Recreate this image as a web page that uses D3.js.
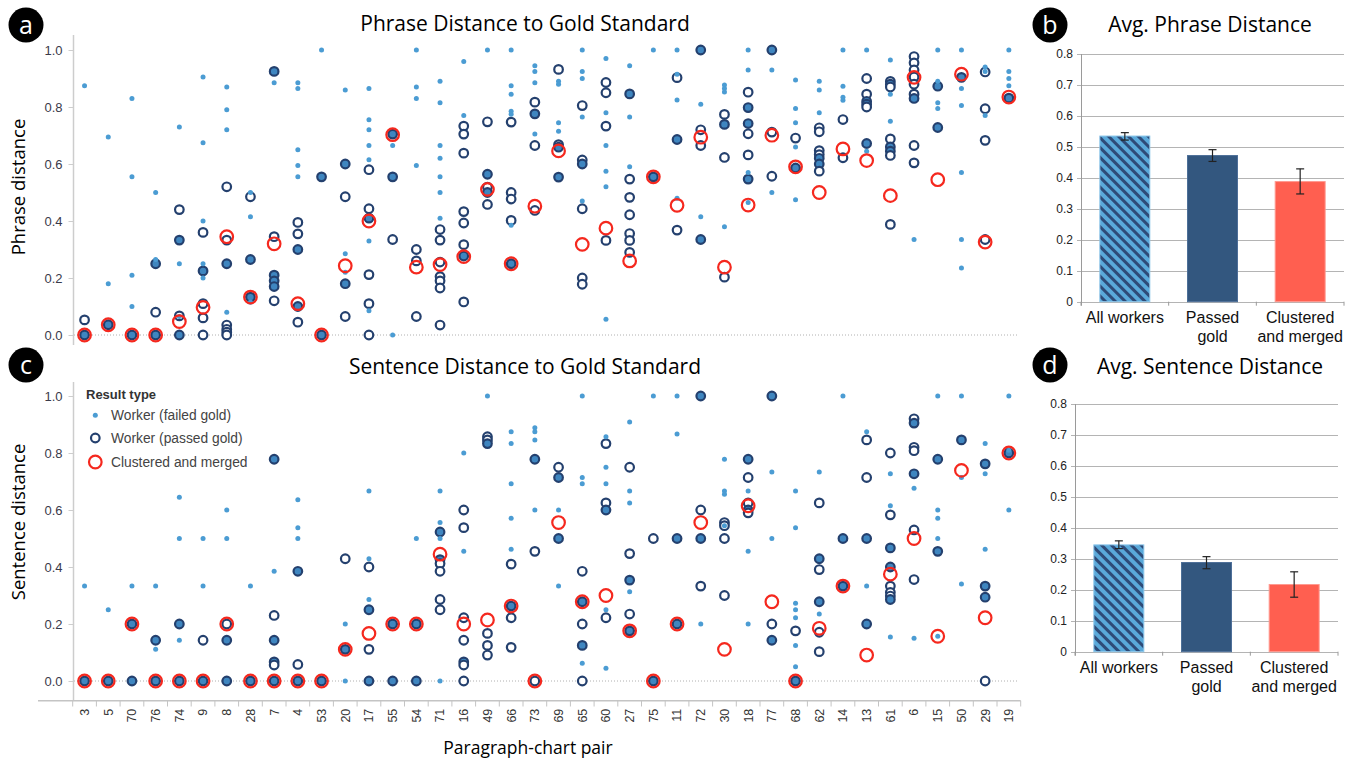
<!DOCTYPE html>
<html>
<head>
<meta charset="utf-8">
<script src="https://cdn.jsdelivr.net/npm/d3@7"></script>
<style>body{margin:0;background:#fff}</style>
</head>
<body>
<svg id="chart" width="1355" height="760"></svg>
<script>
// paragraph-chart pairs, in the order on the x axis
var pairs = ["3","5","70","76","74","9","8","28","7","4","53","20","17","55","54","71","16","49","66","73",
             "69","65","60","27","75","11","72","30","18","77","68","62","14","13","61","6","15","50","29","19"];
var distTicks = [0, 0.2, 0.4, 0.6, 0.8, 1.0];

// phrase distance, one list per pair (repeated value = several workers on the same spot)
var phraseFailed = [
  [0.875],[0.695,0.18],[0.83,0.555,0.21,0.1],[0.5,0.265],[0.73,0.25,0.065],
  [0.905,0.675,0.4,0.25,0.2],[0.87,0.79,0.72,0.08],[0.5,0.415,0.115],[0.885],[0.885,0.865,0.65,0.595,0.555],
  [1.0],[0.86,0.285,0.22],[0.865,0.755,0.72,0.665,0.615,0.33,0.085],[0.665,0],[1.0,0.87,0.83,0.595],
  [0.89,0.815,0.665,0.62,0.555,0.5,0.41],[0.96,0.77],[1.0],[1.0,0.875,0.845,0.785,0.775,0.385],[0.945,0.925,0.885,0.705],
  [0.89,0.88,0.745,0.715],[1.0,0.925,0.9,0.765,0.47],[0.97,0.78,0.665,0.575,0.52,0.055],[0.945,0.765,0.59],[1.0],
  [1.0,0.915,0.825,0.48],[0.81,0.415],[0.877,0.865,0.853,0.38],[1.0,0.93,0.57,0.465],[0.93,0.5],
  [0.895,0.795,0.745,0.66,0.475],[0.89,0.86,0.78],[1.0,0.873,0.834,0.824],[1.0,0.645],[0.965,0.845,0.75],
  [0.335],[1.0,0.89,0.815,0.795],[1.0,0.865,0.805,0.57,0.335,0.235],[0.94,0.925,0.77],[1.0,0.925,0.9,0.875]
];
var phrasePassed = [
  [0.053,0,0],[0.036,0.036],[0,0],[0.25,0.25,0.08,0,0],[0.44,0.333,0.333,0.067,0,0],
  [0.36,0.225,0.225,0.11,0.06,0],[0.52,0.333,0.25,0.25,0.035,0.02,0.01,0],[0.485,0.265,0.265,0.133,0.133],
  [0.925,0.925,0.345,0.21,0.21,0.19,0.19,0.17,0.17,0.12],[0.395,0.355,0.3,0.3,0.1,0.1,0.045],
  [0.555,0.555,0,0],[0.6,0.6,0.485,0.18,0.18,0.065],[0.58,0.443,0.41,0.41,0.212,0.11,0],[0.705,0.705,0.555,0.555,0.335],[0.3,0.26,0.065],
  [0.37,0.333,0.256,0.205,0.19,0.165,0.035],[0.733,0.705,0.638,0.433,0.393,0.317,0.277,0.277,0.116],
  [0.748,0.564,0.564,0.519,0.5,0.5,0.458],[0.747,0.5,0.477,0.402,0.25,0.25],[0.817,0.776,0.776,0.665,0.437],
  [0.932,0.668,0.659,0.659,0.554,0.554],[0.805,0.614,0.6,0.6,0.443,0.2,0.178],[0.886,0.85,0.733,0.332],
  [0.846,0.846,0.547,0.483,0.422,0.356,0.332,0.29],[0.555,0.555],
  [0.903,0.686,0.686,0.368],[1.0,1.0,0.72,0.665,0.335,0.335],[0.774,0.739,0.739,0.623,0.203],
  [0.852,0.798,0.798,0.742,0.742,0.706,0.632,0.547,0.547],[1.0,1.0,0.712,0.557],
  [0.691,0.586,0.586],[0.727,0.713,0.647,0.633,0.62,0.62,0.6,0.6,0.575],[0.756,0.622],
  [0.9,0.845,0.82,0.82,0.81,0.81,0.8,0.672,0.672],[0.89,0.88,0.88,0.87,0.688,0.66,0.66,0.645,0.645,0.63,0.388],
  [0.977,0.955,0.93,0.905,0.88,0.845,0.83,0.83,0.665,0.604],[0.873,0.873,0.728,0.728],[0.904,0.904],
  [0.923,0.794,0.683,0.335],[0.831,0.831]
];
var phraseMerged = [0,0.036,0,0,0.047,0.097,0.345,0.133,0.32,0.11,0,0.243,0.4,0.703,0.238,0.247,0.275,0.511,0.25,0.452,
                    0.646,0.318,0.375,0.26,0.555,0.455,0.694,0.238,0.456,0.701,0.59,0.5,0.653,0.612,0.489,0.904,0.545,0.915,0.326,0.835];

// sentence distance
var sentenceFailed = [
  [0.333],[0.25],[0.333],[0.333,0.111],[0.645,0.5,0.143],
  [0.5,0.333],[0.6,0.5],[0.333],[0.385],[0.636,0.538,0.5],
  [],[0.2,0],[0.667,0.429,0.286],[],[0.5],
  [0.667,0.556,0.5,0],[0.8,0.455],[1.0],[0.875,0.833,0.692,0.571,0.462],[0.889,0.875,0.846,0.6],
  [0.6,0.333],[1.0,0.714,0.692,0.0625],[0.857,0.75,0.692,0.25,0.045],[0.909,0.667,0.625,0.313],[1.0],
  [1.0,0.867],[0.2],[0.778,0.667,0.655,0.545],[0.667,0.455,0.2],[0.733,0.5],
  [0.667,0.538,0.273,0.25,0.222,0.125,0.05],[0.733,0.235],[1.0],[0.875,0.333],[0.727,0.615,0.154],
  [0.676,0.15],[1.0,0.6,0.571,0.5,0.157],[1.0,0.714,0.34],[0.833,0.727,0.462],[1.0,0.81,0.6]
];
var sentencePassed = [
  [0,0],[0,0],[0.2,0.2,0,0],[0.143,0.143,0,0],[0.2,0.2,0,0],
  [0.143,0,0],[0.2,0.143,0.143,0,0],[0,0],[0.778,0.778,0.23,0.143,0.143,0.067,0.067,0.056,0,0],[0.385,0.385,0.058,0,0],
  [0,0],[0.429,0.111,0.111],[0.4,0.25,0.25,0.111,0,0],[0.2,0.2,0,0],[0.2,0.2,0,0],
  [0.523,0.523,0.426,0.426,0.412,0.385,0.286,0.25],[0.6,0.538,0.222,0.143,0.067,0.067,0.056,0],
  [0.857,0.846,0.833,0.833,0.167,0.125,0.091],[0.41,0.263,0.263,0.222,0.118],[0.778,0.778,0.455,0],
  [0.75,0.714,0.714,0.5,0.5],[0.385,0.278,0.278,0.2,0.125,0.125,0],[0.833,0.625,0.6,0.6,0.222],
  [0.75,0.447,0.354,0.354,0.235,0.176,0.176],[0.5,0,0],
  [0.5,0.5,0.2,0.2],[1.0,1.0,0.6,0.5,0.5,0.333],[0.556,0.545,0.5,0.3],[0.778,0.778,0.714,0.625,0.6,0.6,0.59],[1.0,1.0,0.2,0.143,0.143],
  [0.176,0,0],[0.625,0.429,0.429,0.391,0.278,0.278,0.171,0.103],[0.5,0.5,0.333,0.333],[0.846,0.714,0.5,0.5,0.2,0.2],
  [0.8,0.583,0.467,0.467,0.4,0.4,0.333,0.311,0.298,0.286,0.286],
  [0.92,0.905,0.905,0.82,0.808,0.727,0.727,0.53,0.356],[0.778,0.778,0.455,0.455],[0.846,0.846],
  [0.762,0.762,0.333,0.333,0.294,0.294,0],[0.8,0.8]
];
var sentenceMerged = [0,0,0.2,0,0,0,0.2,0,0,0,0,0.111,0.167,0.2,0.2,0.445,0.2,0.214,0.263,0,
                      0.556,0.278,0.3,0.176,0,0.2,0.556,0.111,0.615,0.278,0,0.185,0.333,0.091,0.375,0.5,0.157,0.739,0.222,0.8];

// averages (right panels)
var groups = ["All workers", "Passed gold", "Clustered and merged"];
var groupLines = [["All workers"], ["Passed", "gold"], ["Clustered", "and merged"]];
var barTicks = [0, 0.1, 0.2, 0.3, 0.4, 0.5, 0.6, 0.7, 0.8];
var phraseAvg = [0.535, 0.472, 0.388];
var phraseLo  = [0.522, 0.453, 0.348];
var phraseHi  = [0.546, 0.491, 0.429];
var sentenceAvg = [0.345, 0.288, 0.217];
var sentenceLo  = [0.333, 0.268, 0.176];
var sentenceHi  = [0.358, 0.307, 0.258];


var svg = d3.select("#chart");
var titleFont = "'Open Sans', sans-serif";
var tabFont = "'Liberation Sans', Arial, sans-serif";

var cFailed = "#4b9cd3", cNavy = "#24406e", cFill = "#3f86c0", cRed = "#f5281e";

// hatch for "All workers"
var defs = svg.append("defs");
var pat = defs.append("pattern")
  .attr("id", "hatch")
  .attr("patternUnits", "userSpaceOnUse")
  .attr("width", 7).attr("height", 7)
  .attr("patternTransform", "rotate(-45)");
pat.append("rect").attr("width", 7).attr("height", 7).attr("fill", "#5aa9da");
pat.append("rect").attr("width", 3).attr("height", 7).attr("fill", "#2e4b78");

var x = d3.scaleBand().domain(pairs).range([72.7, 1020.7]);
function cx(p){ return x(p) + x.bandwidth() / 2; }

function scatter(y, yTop, yBottom, failed, passed, merged) {
  var g = svg.append("g");

  g.append("line")
    .attr("x1", 74).attr("x2", 1018)
    .attr("y1", y(0)).attr("y2", y(0))
    .attr("stroke", "#b0b0b0").attr("stroke-dasharray", "1,2");

  g.append("line")
    .attr("x1", 73.5).attr("x2", 73.5)
    .attr("y1", yTop).attr("y2", yBottom)
    .attr("stroke", "#cdcdcd").attr("stroke-width", 1.5);

  g.append("g")
    .attr("transform", "translate(73.5,0)")
    .call(d3.axisLeft(y).tickValues(distTicks).tickFormat(d3.format(".1f")).tickSize(5).tickPadding(6))
    .call(function(a){
      a.select(".domain").remove();
      a.selectAll("line").attr("stroke", "#cdcdcd");
      a.selectAll("text").attr("font-family", tabFont).attr("font-size", 13).attr("fill", "#3a3a4a");
    });

  var pts = [];
  passed.forEach(function(vals, i){
    d3.rollup(vals, function(v){ return v.length; }, function(d){ return d; })
      .forEach(function(n, v){ pts.push({p: pairs[i], v: v, filled: n > 1}); });
  });
  g.append("g").selectAll("circle").data(pts).join("circle")
    .attr("cx", function(d){ return cx(d.p); })
    .attr("cy", function(d){ return y(d.v); })
    .attr("r", 4.3)
    .attr("fill", function(d){ return d.filled ? cFill : "#fff"; })
    .attr("stroke", cNavy).attr("stroke-width", 2.2);

  var fp = [];
  failed.forEach(function(vals, i){ vals.forEach(function(v){ fp.push({p: pairs[i], v: v}); }); });
  g.append("g").selectAll("circle").data(fp).join("circle")
    .attr("cx", function(d){ return cx(d.p); })
    .attr("cy", function(d){ return y(d.v); })
    .attr("r", 2.5)
    .attr("fill", cFailed);

  g.append("g").selectAll("circle").data(merged).join("circle")
    .attr("cx", function(d, i){ return cx(pairs[i]); })
    .attr("cy", function(d){ return y(d); })
    .attr("r", 6.3)
    .attr("fill", "none")
    .attr("stroke", cRed).attr("stroke-width", 2.2);
}

var yPhrase = d3.scaleLinear().domain([0, 1]).range([335, 50]);
var ySentence = d3.scaleLinear().domain([0, 1]).range([681, 396]);

scatter(yPhrase, 35, 345, phraseFailed, phrasePassed, phraseMerged);
scatter(ySentence, 382, 701, sentenceFailed, sentencePassed, sentenceMerged);

// x axis of the bottom panel
svg.append("line")
  .attr("x1", 38).attr("x2", 1020.7).attr("y1", 700.7).attr("y2", 700.7)
  .attr("stroke", "#c4c4c4").attr("stroke-width", 1.5);
svg.append("g").selectAll("line").data(pairs.concat(["end"])).join("line")
  .attr("x1", function(d){ return d === "end" ? 1020.7 : x(d); })
  .attr("x2", function(d){ return d === "end" ? 1020.7 : x(d); })
  .attr("y1", 700.7).attr("y2", 706.5)
  .attr("stroke", "#c4c4c4");
svg.append("g")
  .attr("transform", "translate(0,700.7)")
  .call(d3.axisBottom(x).tickSize(0).tickPadding(0))
  .call(function(a){
    a.select(".domain").remove();
    a.selectAll("text")
      .attr("font-family", tabFont).attr("font-size", 12.5).attr("fill", "#333")
      .attr("transform", "rotate(-90)")
      .attr("x", -8).attr("y", 0).attr("dy", "0.35em")
      .style("text-anchor", "end");
  });

// legend
var lg = svg.append("g").attr("font-family", tabFont).attr("font-size", 13.8).attr("fill", "#444");
lg.append("text").attr("x", 86).attr("y", 399).attr("font-weight", "bold").attr("font-size", 13).attr("fill", "#333").text("Result type");
lg.append("circle").attr("cx", 95.3).attr("cy", 415.3).attr("r", 2.5).attr("fill", cFailed);
lg.append("text").attr("x", 111).attr("y", 420).text("Worker (failed gold)");
lg.append("circle").attr("cx", 95.3).attr("cy", 438).attr("r", 4.3).attr("fill", "#fff").attr("stroke", cNavy).attr("stroke-width", 2.2);
lg.append("text").attr("x", 111).attr("y", 443).text("Worker (passed gold)");
lg.append("circle").attr("cx", 95.3).attr("cy", 462).attr("r", 6.3).attr("fill", "none").attr("stroke", cRed).attr("stroke-width", 2.2);
lg.append("text").attr("x", 111).attr("y", 467).text("Clustered and merged");

// titles
function text(xp, yp, s, size, rot) {
  var t = svg.append("text")
    .attr("x", xp).attr("y", yp)
    .attr("font-family", titleFont).attr("font-size", size)
    .attr("fill", "#000").attr("text-anchor", "middle")
    .text(s);
  if (rot) t.attr("transform", "rotate(-90," + xp + "," + yp + ")");
}
text(525, 31, "Phrase Distance to Gold Standard", 21);
text(525, 374, "Sentence Distance to Gold Standard", 21);
text(1210, 32, "Avg. Phrase Distance", 21);
text(1210, 374, "Avg. Sentence Distance", 21);
text(25, 187, "Phrase distance", 18.5, true);
text(25, 522, "Sentence distance", 18.5, true);
text(528, 754, "Paragraph-chart pair", 17.5);

// panel letters
[["a", 26, 25], ["b", 1050, 25], ["c", 26, 365], ["d", 1050, 365]].forEach(function(b){
  svg.append("circle").attr("cx", b[1]).attr("cy", b[2]).attr("r", 17.5).attr("fill", "#000");
  svg.append("text").attr("x", b[1]).attr("y", b[2]).attr("dy", "0.34em")
    .attr("text-anchor", "middle").attr("font-family", titleFont).attr("font-size", 25)
    .attr("fill", "#fff").text(b[0]);
});

// bar charts
function bars(x0, x1, y0, y1, avg, lo, hi) {
  var g = svg.append("g");
  var xb = d3.scaleBand().domain(groups).range([x0, x1]).paddingInner(0.43).paddingOuter(0.215);
  var yb = d3.scaleLinear().domain([0, 0.8]).range([y0, y1]);

  g.append("g").selectAll("line").data(barTicks).join("line")
    .attr("x1", x0 - 4).attr("x2", x1)
    .attr("y1", function(d){ return Math.round(yb(d)) + 0.5; })
    .attr("y2", function(d){ return Math.round(yb(d)) + 0.5; })
    .attr("stroke", "#b4b4b4");
  g.append("line").attr("x1", x0 + 0.5).attr("x2", x0 + 0.5).attr("y1", yb(0.8)).attr("y2", yb(0) + 4)
    .attr("stroke", "#9a9a9a");
  g.append("g").selectAll("line").data(groups.concat(["end"])).join("line")
    .attr("x1", function(d){ return d === "end" ? x1 : xb(d) - xb.step() * 0.215; })
    .attr("x2", function(d){ return d === "end" ? x1 : xb(d) - xb.step() * 0.215; })
    .attr("y1", yb(0)).attr("y2", yb(0) + 4)
    .attr("stroke", "#9a9a9a");

  g.append("g").selectAll("text").data(barTicks).join("text")
    .attr("x", x0 - 8).attr("y", function(d){ return yb(d); }).attr("dy", "0.35em")
    .attr("text-anchor", "end").attr("font-family", tabFont).attr("font-size", 12).attr("fill", "#222")
    .text(function(d){ return String(d); });

  var fills = ["url(#hatch)", "#33577f", "#ff5f50"];
  var edges = ["#8cc6ea", "#4d6f98", "#ff9a90"];
  g.append("g").selectAll("rect").data(groups).join("rect")
    .attr("x", function(d){ return xb(d); })
    .attr("width", xb.bandwidth())
    .attr("y", function(d, i){ return yb(avg[i]); })
    .attr("height", function(d, i){ return yb(0) - yb(avg[i]); })
    .attr("fill", function(d, i){ return fills[i]; })
    .attr("stroke", function(d, i){ return edges[i]; }).attr("stroke-width", 1);

  groups.forEach(function(d, i){
    var m = xb(d) + xb.bandwidth() / 2;
    g.append("line").attr("x1", m).attr("x2", m).attr("y1", yb(lo[i])).attr("y2", yb(hi[i])).attr("stroke", "#222").attr("stroke-width", 1.2);
    [lo[i], hi[i]].forEach(function(v){
      g.append("line").attr("x1", m - 4).attr("x2", m + 4).attr("y1", yb(v)).attr("y2", yb(v)).attr("stroke", "#222").attr("stroke-width", 1.2);
    });
    groupLines[i].forEach(function(s, k){
      g.append("text").attr("x", m).attr("y", y0 + 21 + k * 19)
        .attr("text-anchor", "middle").attr("font-family", tabFont).attr("font-size", 16).attr("fill", "#111")
        .text(s);
    });
  });
}

bars(1081, 1344, 301.7, 54, phraseAvg, phraseLo, phraseHi);
bars(1075, 1338, 651.7, 404, sentenceAvg, sentenceLo, sentenceHi);
</script>
</body>
</html>
